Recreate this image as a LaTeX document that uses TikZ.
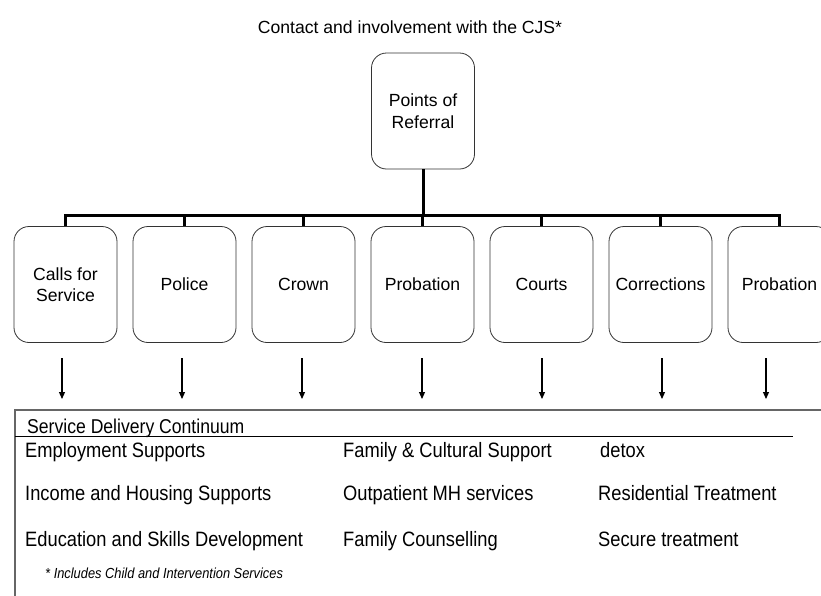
\documentclass[tikz,border=0pt]{standalone}
\usepackage{fontspec}
\setmainfont{Liberation Sans}
\newfontfamily\narrowfont[FakeStretch=0.88]{Liberation Sans}
\usetikzlibrary{arrows.meta}
\begin{document}
\begin{tikzpicture}[x=1pt,y=-1pt,
  box/.style={draw=black!80, line width=0.8pt, rounded corners=15pt, minimum width=103pt, minimum height=116pt, inner sep=0pt, align=center, font=\fontsize{17.6}{21.5}\selectfont},
  conn/.style={line width=3pt, line join=miter},
  arr/.style={line width=1.1pt, -{Triangle[length=7pt,width=6pt]}},
  svc/.style={anchor=base west, inner sep=0pt, font=\narrowfont\fontsize{20.8}{24}\selectfont},
  ttl/.style={anchor=base, inner sep=0pt, font=\fontsize{17.6}{21}\selectfont}]
\useasboundingbox (0,0) rectangle (821,595);
\clip (0,0) rectangle (821,595);
% title
\node[ttl] (title) at (410,33) {Contact and involvement with the CJS*};
% boxes
\node[box] (top) at (423,111) {Points of\\Referral};
\node[box] (c1) at (65.5,284.5) {Calls for\\Service};
\node[box] (c2) at (184.5,284.5) {Police};
\node[box] (c3) at (303.5,284.5) {Crown};
\node[box] (c4) at (422.5,284.5) {Probation};
\node[box] (c5) at (541.5,284.5) {Courts};
\node[box] (c6) at (660.5,284.5) {Corrections};
\node[box] (c7) at (779.5,284.5) {Probation};
% connectors
\coordinate (bar) at (423,215);
\draw[conn] (top.south) -- (top.south |- bar);
\draw[conn] (c1.north) -- (c1.north |- bar) -- (c7.north |- bar) -- (c7.north);
\foreach \i in {2,...,6} {\draw[conn] (c\i.north) -- (c\i.north |- bar);}
% arrows
\foreach \i/\x in {1/62,2/182,3/302,4/422,5/542,6/662,7/766} {
  \coordinate (as\i) at (\x,358);
  \coordinate (ae\i) at (\x,399);
  \draw[arr] (as\i) -- (ae\i);
}
% service box
\draw[draw=black!60, line width=1.3pt] (15,410) rectangle (840,610);
\node[svc, font=\narrowfont\fontsize{20}{24}\selectfont] (hdr) at (27,433) {Service Delivery Continuum};
\draw[line width=0.8pt] (15,436) -- (793,436);
\node[svc] (s11) at (25,457) {Employment Supports};
\node[svc] (s12) at (343,457) {Family \& Cultural Support};
\node[svc] (s13) at (600,457) {detox};
\node[svc] (s21) at (25,500) {Income and Housing Supports};
\node[svc] (s22) at (343,500) {Outpatient MH services};
\node[svc] (s23) at (598,500) {Residential Treatment};
\node[svc] (s31) at (25,546) {Education and Skills Development};
\node[svc] (s32) at (343,546) {Family Counselling};
\node[svc] (s33) at (598,546) {Secure treatment};
\node[svc, font=\narrowfont\fontsize{14.6}{17}\selectfont\itshape] (fn) at (45,578) {* Includes Child and Intervention Services};
\end{tikzpicture}
\end{document}
